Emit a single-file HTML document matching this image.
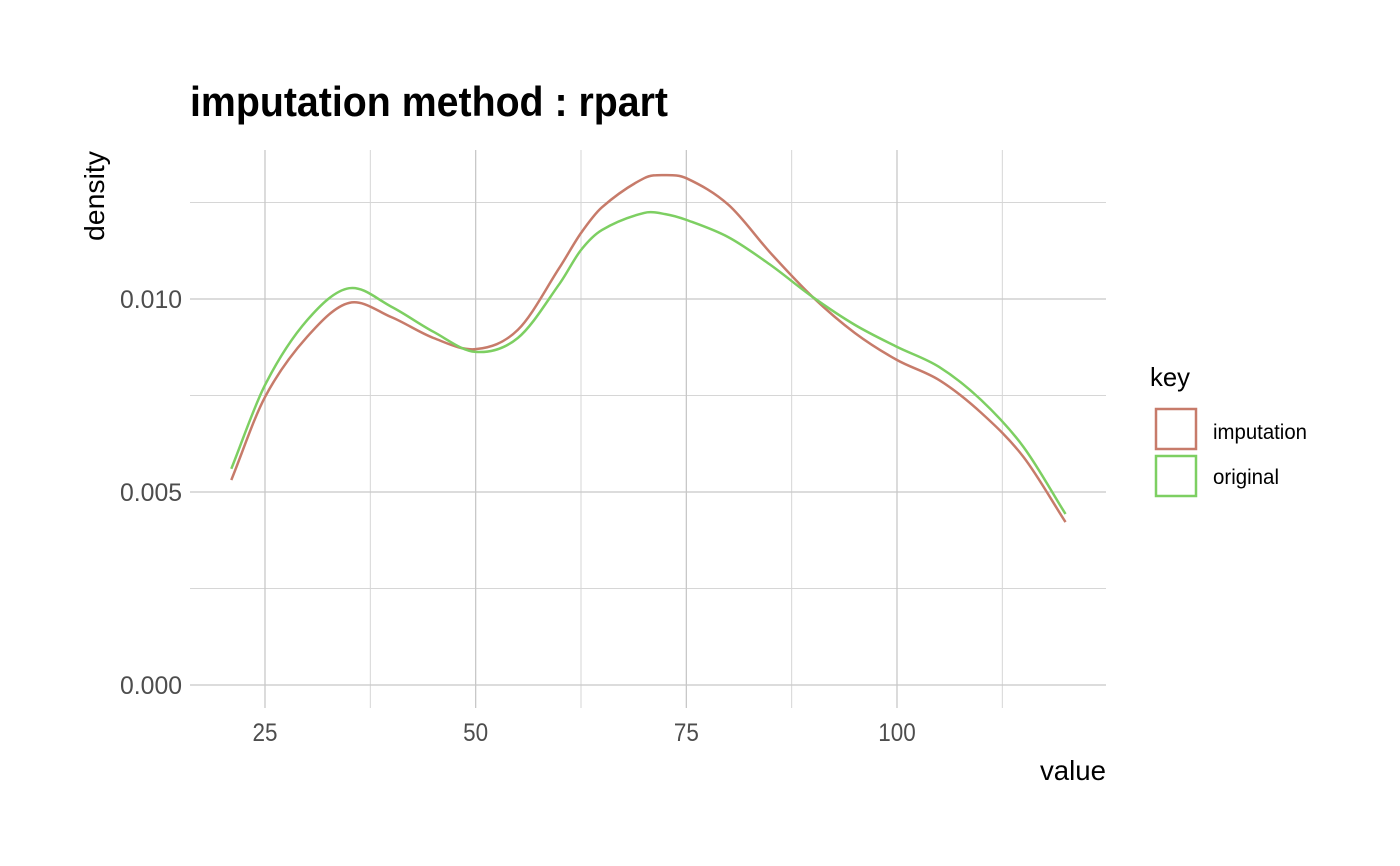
<!DOCTYPE html>
<html><head><meta charset="utf-8"><style>
body{margin:0;background:#fff}
svg{display:block}
text{font-family:"Liberation Sans",sans-serif}
</style></head><body>
<svg id="chart" width="1400" height="866">
<text x="190" y="116" font-size="42" font-weight="bold" fill="#000" textLength="478" lengthAdjust="spacingAndGlyphs">imputation method : rpart</text>
<g id="grid"></g>
<g id="axes"></g>
<g id="series"></g>
<text x="1106" y="780" font-size="28" text-anchor="end" fill="#000" textLength="66" lengthAdjust="spacingAndGlyphs">value</text>
<text transform="translate(104,241) rotate(-90)" font-size="28" fill="#000" textLength="90" lengthAdjust="spacingAndGlyphs">density</text>
<g>
<text x="1150" y="386" font-size="26" fill="#000" textLength="40" lengthAdjust="spacingAndGlyphs">key</text>
<rect x="1156" y="409" width="40" height="40" fill="none" stroke="#c77b6a" stroke-width="2.5"/>
<text x="1213" y="439" font-size="21" fill="#000" textLength="94" lengthAdjust="spacingAndGlyphs">imputation</text>
<rect x="1156" y="456" width="40" height="40" fill="none" stroke="#7dcf62" stroke-width="2.5"/>
<text x="1213" y="484" font-size="21" fill="#000" textLength="66" lengthAdjust="spacingAndGlyphs">original</text>
</g>
</svg>
<script>
const xValues=[21,25,30,35,40,45,50,55,60,62.5,65,70,72.5,75,80,85,90,95,100,105,110,115,120];
const imputation=[0.00531,0.00746,0.00902,0.0099,0.00953,0.00899,0.0087,0.0092,0.01083,0.01171,0.01238,0.01313,0.01321,0.01313,0.01244,0.01119,0.01005,0.00912,0.00842,0.0079,0.00705,0.00591,0.00422];
const original=[0.0056,0.00777,0.00945,0.01028,0.0098,0.00915,0.00863,0.00899,0.01041,0.01127,0.01179,0.01223,0.0122,0.01205,0.0116,0.01088,0.01005,0.00933,0.00876,0.00824,0.00738,0.00617,0.00443];
const xTicks=[25,50,75,100];
const xMinor=[37.5,62.5,87.5,112.5];
const yTicks=[0,0.005,0.010];
const yTickLabels=["0.000","0.005","0.010"];
const yMinor=[0.0025,0.0075,0.0125];

const ns="http://www.w3.org/2000/svg";
const X=v=>265+(v-25)*(897-265)/75;
const Y=v=>685-v*(685-299)/0.010;
const L=190,R=1106,T=150,B=708;
function mk(tag,attrs,parent){const e=document.createElementNS(ns,tag);for(const k in attrs)e.setAttribute(k,attrs[k]);parent.appendChild(e);return e;}
const grid=document.getElementById('grid'),axes=document.getElementById('axes'),series=document.getElementById('series');
yMinor.forEach(v=>{const l=mk('line',{x1:L,x2:R,y1:Y(v),y2:Y(v),stroke:'#d6d6d6','stroke-width':1},grid);

});
xMinor.forEach(v=>{const l=mk('line',{x1:X(v),x2:X(v),y1:T,y2:B,stroke:'#d6d6d6','stroke-width':1},grid);

});
yTicks.forEach((v,i)=>{const l=mk('line',{x1:L,x2:R,y1:Y(v),y2:Y(v),stroke:'#c8c8c8','stroke-width':1.3},grid);


const t=mk('text',{x:182,y:Y(v)+9,'font-size':25,'text-anchor':'end',fill:'#4d4d4d',textLength:62,lengthAdjust:'spacingAndGlyphs'},axes);t.textContent=yTickLabels[i];

});
xTicks.forEach(v=>{const l=mk('line',{x1:X(v),x2:X(v),y1:T,y2:B,stroke:'#c8c8c8','stroke-width':1.3},grid);


const s=String(v);
const t=mk('text',{x:X(v),y:741,'font-size':25,'text-anchor':'middle',fill:'#4d4d4d',textLength:s.length*12.5,lengthAdjust:'spacingAndGlyphs'},axes);t.textContent=s;

});
function pathFor(ys){const p=xValues.map((x,i)=>[X(x),Y(ys[i])]);let d=`M${p[0][0]},${p[0][1]}`;
for(let i=0;i<p.length-1;i++){const p0=p[Math.max(0,i-1)],p1=p[i],p2=p[i+1],p3=p[Math.min(p.length-1,i+2)];
const h=p2[0]-p1[0];
const m1=(p2[1]-p0[1])/(p2[0]-p0[0]||1),m2=(p3[1]-p1[1])/(p3[0]-p1[0]||1);
const c1=[p1[0]+h/3,p1[1]+m1*h/3],c2=[p2[0]-h/3,p2[1]-m2*h/3];
d+=` C${c1[0]},${c1[1]} ${c2[0]},${c2[1]} ${p2[0]},${p2[1]}`;}return d;}
const pi=mk('path',{d:pathFor(imputation),fill:'none',stroke:'#c77b6a','stroke-width':2.5},series);


const po=mk('path',{d:pathFor(original),fill:'none',stroke:'#7dcf62','stroke-width':2.5},series);


</script>
</body></html>
